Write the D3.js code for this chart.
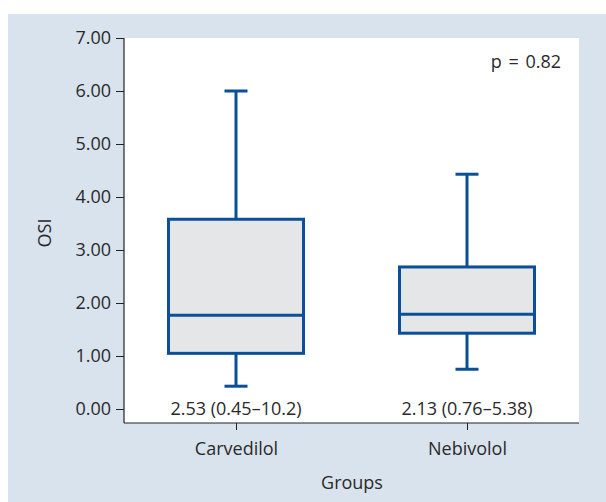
<!DOCTYPE html>
<html><head><meta charset="utf-8">
<script src="https://cdn.jsdelivr.net/npm/d3@7"></script>
<style>body{margin:0;background:#fff}svg{display:block}text{font-family:"Open Sans","Noto Sans",sans-serif;fill:#2a2a2a}</style>
</head><body>
<svg id="c" width="606" height="502"></svg>
<script>
const groups = ["Carvedilol", "Nebivolol"];
const whiskerLow = [0.43, 0.75];
const q1 = [1.05, 1.43];
const median = [1.77, 1.79];
const q3 = [3.58, 2.68];
const whiskerHigh = [6.0, 4.43];
const annotations = ["2.53 (0.45–10.2)", "2.13 (0.76–5.38)"];
const yTicks = [0, 1, 2, 3, 4, 5, 6, 7];
const pText = "p = 0.82";

const FS = 18;
const svg = d3.select("#c");
svg.append("rect").attr("x", 8).attr("y", 14).attr("width", 598).attr("height", 488).attr("fill", "#d9e3ed");
const L = 124, R = 579, T = 38, B = 423;
svg.append("rect").attr("x", L).attr("y", T).attr("width", R - L).attr("height", B - T).attr("fill", "#fff");

const y = d3.scaleLinear().domain([0, 7]).range([409, 38]);
const x = d3.scalePoint().domain(groups).range([236, 467]);

const yAxis = svg.append("g").attr("transform", `translate(${L},0)`)
  .call(d3.axisLeft(y).tickValues(yTicks).tickFormat(d3.format(".2f")).tickSize(8).tickSizeOuter(0));
yAxis.select(".domain").remove();
yAxis.selectAll("line").attr("stroke", "#222");
yAxis.selectAll("text").attr("font-size", FS).attr("x", -13).style("fill", "#2a2a2a");
svg.append("line").attr("x1", L).attr("x2", L).attr("y1", T).attr("y2", B).attr("stroke", "#222").attr("stroke-width", 1.2);

const xAxis = svg.append("g").attr("transform", `translate(0,${B})`)
  .call(d3.axisBottom(x).tickSize(7).tickSizeOuter(0));
xAxis.select(".domain").remove();
xAxis.selectAll("line").attr("stroke", "#222");
xAxis.selectAll("text").attr("font-size", FS).attr("y", 32).attr("dy", 0).style("fill", "#2a2a2a");
svg.append("line").attr("x1", L).attr("x2", R).attr("y1", B).attr("y2", B).attr("stroke", "#222").attr("stroke-width", 1.2);

const col = "#0a4f98", boxW = 135, capW = 23;
groups.forEach((g, i) => {
  const cx = x(g);
  const gg = svg.append("g");
  gg.append("line").attr("x1", cx).attr("x2", cx).attr("y1", y(whiskerHigh[i])).attr("y2", y(q3[i])).attr("stroke", col).attr("stroke-width", 3);
  gg.append("line").attr("x1", cx).attr("x2", cx).attr("y1", y(q1[i])).attr("y2", y(whiskerLow[i])).attr("stroke", col).attr("stroke-width", 3);
  [whiskerHigh[i], whiskerLow[i]].forEach(v => gg.append("line").attr("x1", cx - capW / 2).attr("x2", cx + capW / 2).attr("y1", y(v)).attr("y2", y(v)).attr("stroke", col).attr("stroke-width", 3));
  gg.append("rect").attr("x", cx - boxW / 2).attr("width", boxW).attr("y", y(q3[i])).attr("height", y(q1[i]) - y(q3[i]))
    .attr("fill", "#e5e6e8").attr("stroke", col).attr("stroke-width", 3);
  gg.append("line").attr("x1", cx - boxW / 2).attr("x2", cx + boxW / 2).attr("y1", y(median[i])).attr("y2", y(median[i])).attr("stroke", col).attr("stroke-width", 3);
  svg.append("text").attr("x", cx).attr("y", 415).attr("text-anchor", "middle").attr("font-size", FS).text(annotations[i]);
});

svg.append("text").attr("x", 561).attr("y", 68).attr("text-anchor", "end").attr("font-size", FS).attr("word-spacing", 2).text(pText);
svg.append("text").attr("x", 352).attr("y", 489).attr("text-anchor", "middle").attr("font-size", FS).text("Groups");
svg.append("text").attr("transform", "translate(51,233) rotate(-90)").attr("text-anchor", "middle").attr("font-size", FS).text("OSI");
</script>
</body></html>
